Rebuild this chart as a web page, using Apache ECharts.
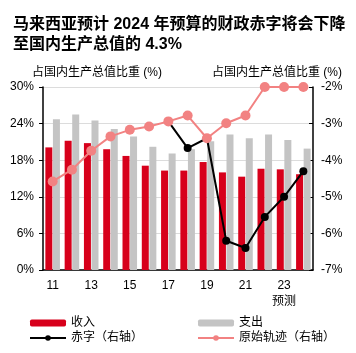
<!DOCTYPE html>
<html lang="zh">
<head>
<meta charset="UTF-8">
<title>马来西亚财政赤字</title>
<script src="https://cdn.jsdelivr.net/npm/echarts@6/dist/echarts.min.js"></script>
<style>
body{margin:0;padding:0;background:#fff;}
#main{width:356px;height:353px;}
</style>
</head>
<body>
<div id="main"></div>
<script>
// x 轴年份（两位）
var years = ['11','12','13','14','15','16','17','18','19','20','21','22','23','24'];
// 左轴 (%)
var revenue = [20.1, 21.2, 20.8, 19.8, 18.7, 17.1, 16.3, 16.3, 17.7, 16.0, 15.3, 16.6, 16.5, 15.7];
var expense = [24.7, 25.5, 24.5, 23.1, 21.9, 20.2, 19.1, 19.8, 21.1, 22.2, 21.6, 22.2, 21.3, 19.9];
// 右轴 (%)
var deficit = [null, null, null, null, null, null, -2.94, -3.67, -3.40, -6.2, -6.4, -5.55, -5.0, -4.3];
var originalPath = [-4.58, -4.26, -3.74, -3.35, -3.17, -3.08, -2.94, -2.78, -3.40, -2.99, -2.78, -2.0, -2.0, -2.0];

var FONT = 'Arial, "Liberation Sans", "Noto Sans CJK SC", sans-serif';
var RED = '#d7001b', GREY = '#c4c4c4', PINK = '#f28282';

var myChart = echarts.init(document.getElementById('main'));
var option = {
    animation: false,
    textStyle: {fontFamily: FONT},
    title: [{
        text: '马来西亚预计 2024 年预算的财政赤字将会下降\n至国内生产总值的 4.3%',
        left: 8, top: 10,
        textStyle: {fontSize: 16, fontWeight: 'bold', lineHeight: 20, color: '#000', fontFamily: FONT}
    }, {
        text: '占国内生产总值比重 (%)',
        left: 27, top: 62,
        textStyle: {fontSize: 12, fontWeight: 'normal', color: '#000', fontFamily: FONT}
    }, {
        text: '占国内生产总值比重 (%)',
        left: 207, top: 62,
        textStyle: {fontSize: 12, fontWeight: 'normal', color: '#000', fontFamily: FONT}
    }],
    legend: [{
        orient: 'vertical', left: 24, top: 312, itemGap: 3,
        itemWidth: 36, itemHeight: 7,
        textStyle: {fontSize: 12, color: '#000'},
        data: ['收入', '赤字（右轴）']
    }, {
        orient: 'vertical', left: 192, top: 312, itemGap: 3,
        itemWidth: 36, itemHeight: 7,
        textStyle: {fontSize: 12, color: '#000'},
        data: ['支出', '原始轨迹（右轴）']
    }],
    grid: {left: 43, right: 43, top: 87, bottom: 83, containLabel: false},
    xAxis: {
        type: 'category',
        data: years,
        axisLine: {lineStyle: {color: '#000', width: 1.5}},
        axisTick: {interval: 0, length: 5, lineStyle: {color: '#000', width: 1.5}},
        axisLabel: {
            interval: 1, color: '#000', fontSize: 12, margin: 8, lineHeight: 16,
            formatter: function (v) { return v === '23' ? '23\n预测' : v; }
        }
    },
    yAxis: [{
        type: 'value', min: 0, max: 30, interval: 6,
        axisLine: {show: true, lineStyle: {color: '#000', width: 1.5}},
        axisTick: {show: true, length: 4, lineStyle: {color: '#000'}},
        axisLabel: {color: '#000', fontSize: 12, margin: 9, formatter: '{value}%'},
        splitLine: {lineStyle: {color: '#dcdcdc', width: 1}}
    }, {
        type: 'value', min: -7, max: -2, interval: 1,
        axisLine: {show: true, lineStyle: {color: '#000', width: 1.5}},
        axisTick: {show: true, inside: true, length: 4, lineStyle: {color: '#000'}},
        axisLabel: {color: '#000', fontSize: 12, margin: 8, formatter: '{value}%'},
        splitLine: {show: false}
    }],
    series: [{
        name: '收入', type: 'bar', data: revenue,
        barWidth: 7, barGap: '8%',
        itemStyle: {color: RED}
    }, {
        name: '支出', type: 'bar', data: expense,
        barWidth: 7,
        itemStyle: {color: GREY}
    }, {
        name: '赤字（右轴）', type: 'line', yAxisIndex: 1, data: deficit,
        symbol: 'circle', symbolSize: 8,
        lineStyle: {color: '#000', width: 2},
        itemStyle: {color: '#000'}
    }, {
        name: '原始轨迹（右轴）', type: 'line', yAxisIndex: 1, data: originalPath,
        symbol: 'circle', symbolSize: 10,
        lineStyle: {color: PINK, width: 2},
        itemStyle: {color: PINK}
    }]
};
myChart.setOption(option);
</script>
</body>
</html>
